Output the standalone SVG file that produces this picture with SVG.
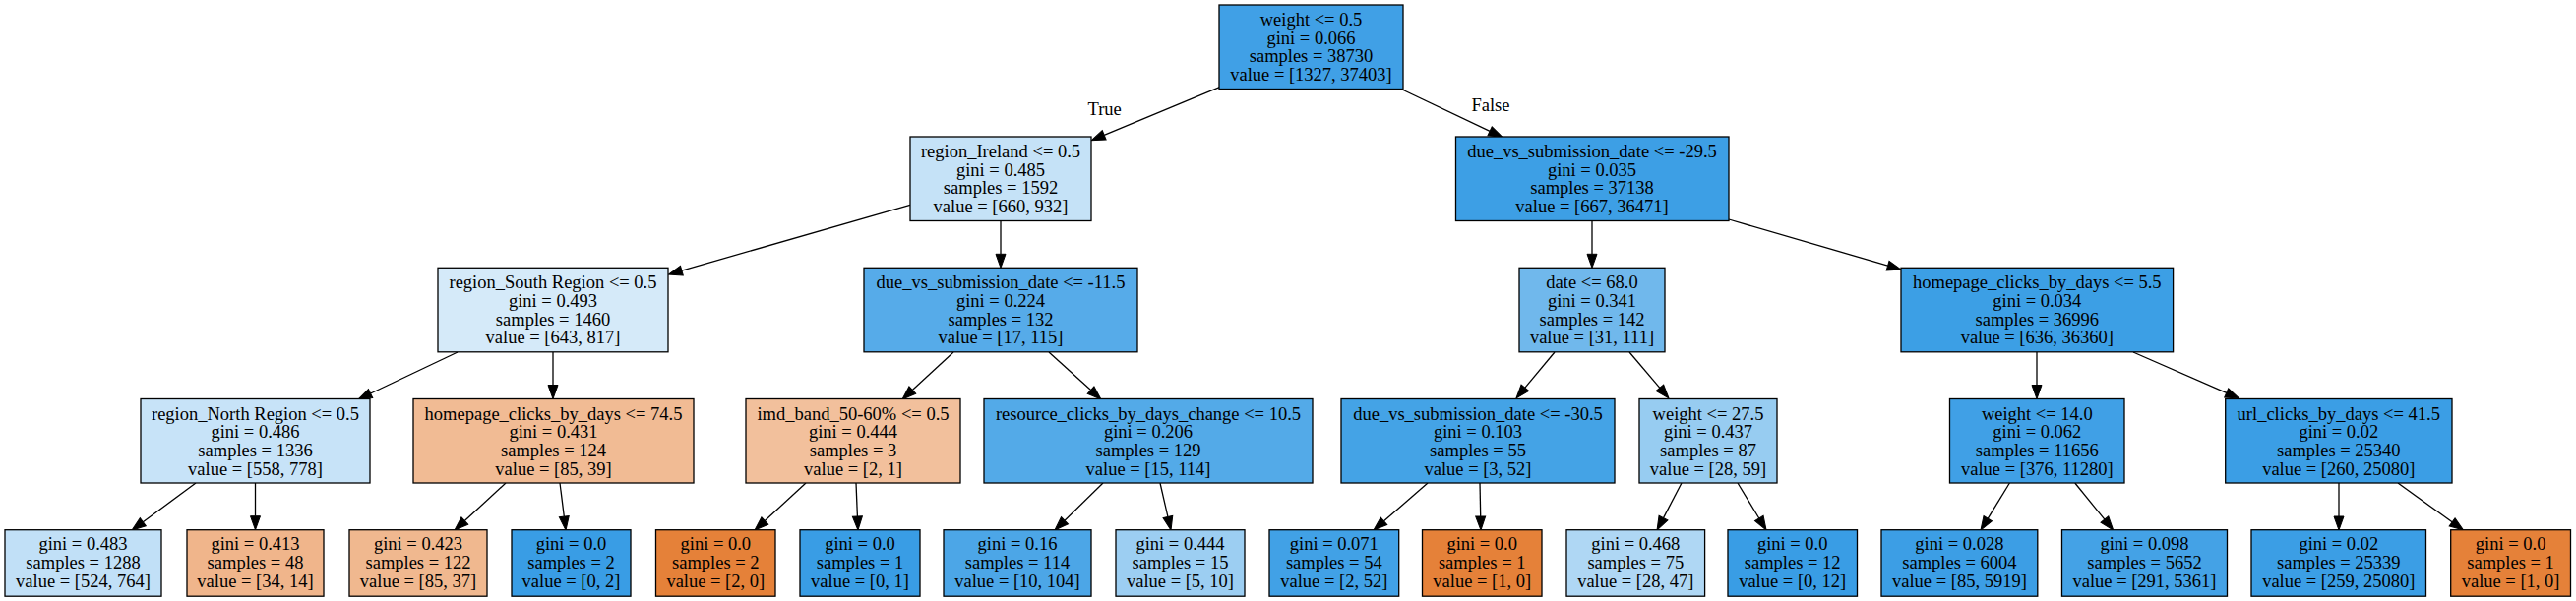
<svg xmlns="http://www.w3.org/2000/svg" width="2618" height="611" viewBox="0 0 2618 611">
<style>
rect.b{stroke:#000;stroke-width:1.3}
text{font-family:"Liberation Serif","Times New Roman",serif;font-size:18.5px;fill:#000;text-anchor:middle}
.e line{stroke:#000;stroke-width:1.3}
</style>
<defs>
<marker id="ah" markerUnits="userSpaceOnUse" markerWidth="16" markerHeight="12" refX="0" refY="5" orient="auto" viewBox="0 0 16 10" overflow="visible">
<path d="M0,0 L14,5 L0,10 z" fill="#000" stroke="#000" stroke-width="1"/>
</marker>
</defs>
<rect width="2618" height="611" fill="#fff"/>
<g class="e" id="edges" marker-end="url(#ah)">
<line x1="1240" y1="88.3" x2="1122.2" y2="137.3" marker-end="url(#ah)"/>
<line x1="1425" y1="91" x2="1514.1" y2="133.3" marker-end="url(#ah)"/>
<line x1="925" y1="208.3" x2="692.9" y2="275.1" marker-end="url(#ah)"/>
<line x1="1017" y1="224.5" x2="1017" y2="258.3" marker-end="url(#ah)"/>
<line x1="1618" y1="224.5" x2="1618" y2="258.3" marker-end="url(#ah)"/>
<line x1="1757" y1="223" x2="1918.6" y2="270.1" marker-end="url(#ah)"/>
<line x1="465" y1="358" x2="376.6" y2="400" marker-end="url(#ah)"/>
<line x1="562" y1="358" x2="562" y2="391.5" marker-end="url(#ah)"/>
<line x1="969" y1="358" x2="927.3" y2="396.5" marker-end="url(#ah)"/>
<line x1="1066" y1="358" x2="1108.6" y2="396.6" marker-end="url(#ah)"/>
<line x1="1580" y1="358" x2="1549.9" y2="394.2" marker-end="url(#ah)"/>
<line x1="1656" y1="358" x2="1686.9" y2="394.3" marker-end="url(#ah)"/>
<line x1="2070" y1="358" x2="2070" y2="391.5" marker-end="url(#ah)"/>
<line x1="2168" y1="358" x2="2262.7" y2="399.4" marker-end="url(#ah)"/>
<line x1="199" y1="491" x2="145.3" y2="530.7" marker-end="url(#ah)"/>
<line x1="259.5" y1="491" x2="259.5" y2="524.7" marker-end="url(#ah)"/>
<line x1="514" y1="491" x2="472.3" y2="529.5" marker-end="url(#ah)"/>
<line x1="569" y1="491" x2="573.3" y2="525.1" marker-end="url(#ah)"/>
<line x1="819" y1="491" x2="777.3" y2="529.5" marker-end="url(#ah)"/>
<line x1="870" y1="491" x2="871.4" y2="525" marker-end="url(#ah)"/>
<line x1="1121" y1="491" x2="1082" y2="529.2" marker-end="url(#ah)"/>
<line x1="1179" y1="491" x2="1186.9" y2="525.4" marker-end="url(#ah)"/>
<line x1="1451" y1="491" x2="1406.5" y2="529.8" marker-end="url(#ah)"/>
<line x1="1504" y1="491" x2="1504.7" y2="525" marker-end="url(#ah)"/>
<line x1="1709" y1="491" x2="1690.5" y2="526.6" marker-end="url(#ah)"/>
<line x1="1766" y1="491" x2="1787.8" y2="527" marker-end="url(#ah)"/>
<line x1="2042.4" y1="491" x2="2020.3" y2="527.1" marker-end="url(#ah)"/>
<line x1="2108.8" y1="491" x2="2138.9" y2="528.1" marker-end="url(#ah)"/>
<line x1="2377" y1="491" x2="2377" y2="525" marker-end="url(#ah)"/>
<line x1="2437" y1="491" x2="2492.1" y2="530.8" marker-end="url(#ah)"/>
<text x="1122.7" y="117">True</text>
<text x="1515" y="113">False</text>
</g>

<g id="n0"><rect class="b" x="1239" y="5" width="187" height="85.5" fill="#40a0e6"/>
<text x="1332.5" y="26">weight &lt;= 0.5</text><text x="1332.5" y="44.7">gini = 0.066</text><text x="1332.5" y="63.3">samples = 38730</text><text x="1332.5" y="82">value = [1327, 37403]</text></g>

<g id="n1"><rect class="b" x="925" y="139" width="184" height="85.5" fill="#c5e2f7"/>
<text x="1017" y="160">region_Ireland &lt;= 0.5</text><text x="1017" y="178.7">gini = 0.485</text><text x="1017" y="197.3">samples = 1592</text><text x="1017" y="216">value = [660, 932]</text></g>

<g id="n2"><rect class="b" x="445" y="272.3" width="234" height="85.5" fill="#d5eaf9"/>
<text x="562" y="293.3">region_South Region &lt;= 0.5</text><text x="562" y="312">gini = 0.493</text><text x="562" y="330.6">samples = 1460</text><text x="562" y="349.3">value = [643, 817]</text></g>

<g id="n3"><rect class="b" x="143" y="405.5" width="233" height="85.5" fill="#c7e3f8"/>
<text x="259.5" y="426.5">region_North Region &lt;= 0.5</text><text x="259.5" y="445.2">gini = 0.486</text><text x="259.5" y="463.8">samples = 1336</text><text x="259.5" y="482.5">value = [558, 778]</text></g>

<g id="n4"><rect class="b" x="5" y="538.7" width="159" height="67.5" fill="#c1e0f7"/>
<text x="84.5" y="559.3">gini = 0.483</text><text x="84.5" y="578">samples = 1288</text><text x="84.5" y="596.7">value = [524, 764]</text></g>

<g id="n5"><rect class="b" x="190" y="538.7" width="139" height="67.5" fill="#f0b58b"/>
<text x="259.5" y="559.3">gini = 0.413</text><text x="259.5" y="578">samples = 48</text><text x="259.5" y="596.7">value = [34, 14]</text></g>

<g id="n6"><rect class="b" x="420" y="405.5" width="285" height="85.5" fill="#f1bb94"/>
<text x="562.5" y="426.5">homepage_clicks_by_days &lt;= 74.5</text><text x="562.5" y="445.2">gini = 0.431</text><text x="562.5" y="463.8">samples = 124</text><text x="562.5" y="482.5">value = [85, 39]</text></g>

<g id="n7"><rect class="b" x="355" y="538.7" width="140" height="67.5" fill="#f0b88f"/>
<text x="425" y="559.3">gini = 0.423</text><text x="425" y="578">samples = 122</text><text x="425" y="596.7">value = [85, 37]</text></g>

<g id="n8"><rect class="b" x="520" y="538.7" width="121" height="67.5" fill="#399de5"/>
<text x="580.5" y="559.3">gini = 0.0</text><text x="580.5" y="578">samples = 2</text><text x="580.5" y="596.7">value = [0, 2]</text></g>

<g id="n9"><rect class="b" x="878" y="272.3" width="278" height="85.5" fill="#56abe9"/>
<text x="1017" y="293.3">due_vs_submission_date &lt;= -11.5</text><text x="1017" y="312">gini = 0.224</text><text x="1017" y="330.6">samples = 132</text><text x="1017" y="349.3">value = [17, 115]</text></g>

<g id="n10"><rect class="b" x="758" y="405.5" width="218" height="85.5" fill="#f2c09c"/>
<text x="867" y="426.5">imd_band_50-60% &lt;= 0.5</text><text x="867" y="445.2">gini = 0.444</text><text x="867" y="463.8">samples = 3</text><text x="867" y="482.5">value = [2, 1]</text></g>

<g id="n11"><rect class="b" x="666.5" y="538.7" width="121.5" height="67.5" fill="#e58139"/>
<text x="727.3" y="559.3">gini = 0.0</text><text x="727.3" y="578">samples = 2</text><text x="727.3" y="596.7">value = [2, 0]</text></g>

<g id="n12"><rect class="b" x="813" y="538.7" width="122" height="67.5" fill="#399de5"/>
<text x="874" y="559.3">gini = 0.0</text><text x="874" y="578">samples = 1</text><text x="874" y="596.7">value = [0, 1]</text></g>

<g id="n13"><rect class="b" x="1000" y="405.5" width="334" height="85.5" fill="#53aae8"/>
<text x="1167" y="426.5">resource_clicks_by_days_change &lt;= 10.5</text><text x="1167" y="445.2">gini = 0.206</text><text x="1167" y="463.8">samples = 129</text><text x="1167" y="482.5">value = [15, 114]</text></g>

<g id="n14"><rect class="b" x="959" y="538.7" width="150" height="67.5" fill="#4ca6e7"/>
<text x="1034" y="559.3">gini = 0.16</text><text x="1034" y="578">samples = 114</text><text x="1034" y="596.7">value = [10, 104]</text></g>

<g id="n15"><rect class="b" x="1134" y="538.7" width="131" height="67.5" fill="#9ccef2"/>
<text x="1199.5" y="559.3">gini = 0.444</text><text x="1199.5" y="578">samples = 15</text><text x="1199.5" y="596.7">value = [5, 10]</text></g>

<g id="n16"><rect class="b" x="1479.5" y="139" width="277.5" height="85.5" fill="#3d9fe5"/>
<text x="1618" y="160">due_vs_submission_date &lt;= -29.5</text><text x="1618" y="178.7">gini = 0.035</text><text x="1618" y="197.3">samples = 37138</text><text x="1618" y="216">value = [667, 36471]</text></g>

<g id="n17"><rect class="b" x="1544" y="272.3" width="148" height="85.5" fill="#70b8ec"/>
<text x="1618" y="293.3">date &lt;= 68.0</text><text x="1618" y="312">gini = 0.341</text><text x="1618" y="330.6">samples = 142</text><text x="1618" y="349.3">value = [31, 111]</text></g>

<g id="n18"><rect class="b" x="1363" y="405.5" width="278" height="85.5" fill="#44a3e6"/>
<text x="1502" y="426.5">due_vs_submission_date &lt;= -30.5</text><text x="1502" y="445.2">gini = 0.103</text><text x="1502" y="463.8">samples = 55</text><text x="1502" y="482.5">value = [3, 52]</text></g>

<g id="n19"><rect class="b" x="1290" y="538.7" width="131.7" height="67.5" fill="#41a1e6"/>
<text x="1355.8" y="559.3">gini = 0.071</text><text x="1355.8" y="578">samples = 54</text><text x="1355.8" y="596.7">value = [2, 52]</text></g>

<g id="n20"><rect class="b" x="1445.5" y="538.7" width="121.5" height="67.5" fill="#e58139"/>
<text x="1506.2" y="559.3">gini = 0.0</text><text x="1506.2" y="578">samples = 1</text><text x="1506.2" y="596.7">value = [1, 0]</text></g>

<g id="n21"><rect class="b" x="1666" y="405.5" width="140" height="85.5" fill="#97ccf1"/>
<text x="1736" y="426.5">weight &lt;= 27.5</text><text x="1736" y="445.2">gini = 0.437</text><text x="1736" y="463.8">samples = 87</text><text x="1736" y="482.5">value = [28, 59]</text></g>

<g id="n22"><rect class="b" x="1592" y="538.7" width="140.6" height="67.5" fill="#afd7f4"/>
<text x="1662.3" y="559.3">gini = 0.468</text><text x="1662.3" y="578">samples = 75</text><text x="1662.3" y="596.7">value = [28, 47]</text></g>

<g id="n23"><rect class="b" x="1756" y="538.7" width="131.5" height="67.5" fill="#399de5"/>
<text x="1821.7" y="559.3">gini = 0.0</text><text x="1821.7" y="578">samples = 12</text><text x="1821.7" y="596.7">value = [0, 12]</text></g>

<g id="n24"><rect class="b" x="1932" y="272.3" width="276.6" height="85.5" fill="#3c9fe5"/>
<text x="2070.3" y="293.3">homepage_clicks_by_days &lt;= 5.5</text><text x="2070.3" y="312">gini = 0.034</text><text x="2070.3" y="330.6">samples = 36996</text><text x="2070.3" y="349.3">value = [636, 36360]</text></g>

<g id="n25"><rect class="b" x="1981.5" y="405.5" width="177.5" height="85.5" fill="#40a0e6"/>
<text x="2070.3" y="426.5">weight &lt;= 14.0</text><text x="2070.3" y="445.2">gini = 0.062</text><text x="2070.3" y="463.8">samples = 11656</text><text x="2070.3" y="482.5">value = [376, 11280]</text></g>

<g id="n26"><rect class="b" x="1912" y="538.7" width="158.8" height="67.5" fill="#3c9ee5"/>
<text x="1991.4" y="559.3">gini = 0.028</text><text x="1991.4" y="578">samples = 6004</text><text x="1991.4" y="596.7">value = [85, 5919]</text></g>

<g id="n27"><rect class="b" x="2095.5" y="538.7" width="168" height="67.5" fill="#44a2e6"/>
<text x="2179.5" y="559.3">gini = 0.098</text><text x="2179.5" y="578">samples = 5652</text><text x="2179.5" y="596.7">value = [291, 5361]</text></g>

<g id="n28"><rect class="b" x="2261.7" y="405.5" width="230.3" height="85.5" fill="#3b9ee5"/>
<text x="2376.8" y="426.5">url_clicks_by_days &lt;= 41.5</text><text x="2376.8" y="445.2">gini = 0.02</text><text x="2376.8" y="463.8">samples = 25340</text><text x="2376.8" y="482.5">value = [260, 25080]</text></g>

<g id="n29"><rect class="b" x="2288" y="538.7" width="177.5" height="67.5" fill="#3b9ee5"/>
<text x="2376.8" y="559.3">gini = 0.02</text><text x="2376.8" y="578">samples = 25339</text><text x="2376.8" y="596.7">value = [259, 25080]</text></g>

<g id="n30"><rect class="b" x="2490.7" y="538.7" width="121.8" height="67.5" fill="#e58139"/>
<text x="2551.6" y="559.3">gini = 0.0</text><text x="2551.6" y="578">samples = 1</text><text x="2551.6" y="596.7">value = [1, 0]</text></g>
</svg>
